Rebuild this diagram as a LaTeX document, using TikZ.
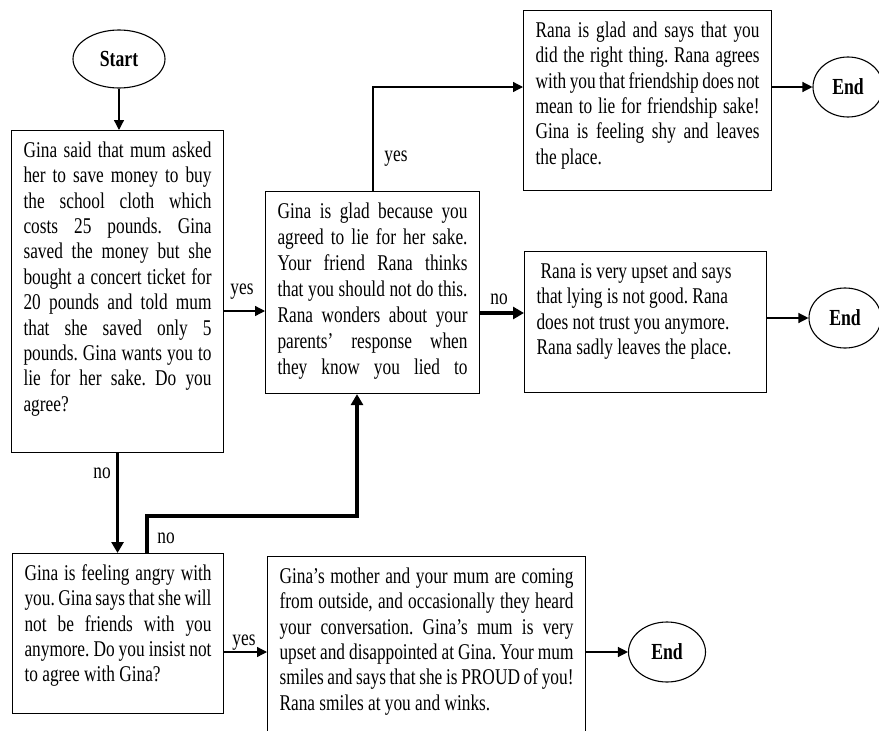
\documentclass[tikz,border=0pt]{standalone}
\usepackage{fontspec}
\setmainfont{Liberation Serif}[FakeStretch=0.77]
\usetikzlibrary{arrows.meta,shapes.geometric}
\hbadness=10000
\hfuzz=40pt
\frenchspacing

% justified block of text, top aligned, fixed width and height
\newcommand\flowtext[3]{\parbox[t][#2][t]{#1}{\strut #3}}

\begin{document}
\begin{tikzpicture}[x=1pt,y=-1pt,
  every node/.style={font=\fontsize{22.5}{25.4}\selectfont},
  box/.style={draw=black, line width=1.1pt, anchor=north west,
    inner xsep=12pt, inner ysep=9pt},
  term/.style={ellipse, draw=black, line width=1.1pt, inner sep=0pt,
    minimum height=60pt, font=\fontsize{23}{26}\selectfont\bfseries},
  lbl/.style={anchor=base, inner sep=0pt},
  arr/.style={draw=black, line width=1.3pt,
    -{Triangle[length=10pt,width=10pt]}},
  thickarr/.style={draw=black, line width=3.6pt, line join=miter,
    -{Triangle[length=11pt,width=12pt]}}
]
\clip (0,0) rectangle (879,731);

% terminals
\node[term, minimum width=92pt, minimum height=58pt] (start) at (119,59) {Start};
\node[term, minimum width=70pt] (end1) at (848,87) {End};
\node[term, minimum width=72pt] (end2) at (845,318) {End};
\node[term, minimum width=77pt] (end3) at (667,652) {End};

% story boxes
\node[box] (b1) at (11,130) {\flowtext{188pt}{304pt}{%
Gina said that mum asked\linebreak
her to save money to buy\linebreak
the school cloth which\linebreak
costs 25 pounds. Gina\linebreak
saved the money but she\linebreak
bought a concert ticket for\linebreak
20 pounds and told mum\linebreak
that she saved only 5\linebreak
pounds. Gina wants you to\linebreak
lie for her sake. Do you\linebreak
agree?}};

\node[box] (b2) at (265,191) {\flowtext{190pt}{184pt}{\parfillskip=0pt
\baselineskip=26pt
Gina is glad because you\linebreak
agreed to lie for her sake.\linebreak
Your friend Rana thinks\linebreak
that you should not do this.\linebreak
Rana wonders about your\linebreak
parents’ response when\linebreak
they know you lied to}};

\node[box] (b3) at (523,10) {\flowtext{224pt}{162pt}{%
Rana is glad and says that you\linebreak
did the right thing. Rana agrees\linebreak
with you that friendship does not\linebreak
mean to lie for friendship sake!\linebreak
Gina is feeling shy and leaves\linebreak
the place.}};

\node[box] (b4) at (524,251) {\flowtext{218pt}{123pt}{\raggedright
\hspace*{4pt}Rana is very upset and says\\
that lying is not good. Rana\\
does not trust you anymore.\\
Rana sadly leaves the place.}};

\node[box] (b5) at (12,553) {\flowtext{187pt}{142pt}{%
Gina is feeling angry with\linebreak
you. Gina says that she will\linebreak
not be friends with you\linebreak
anymore. Do you insist not\linebreak
to agree with Gina?}};

\node[box] (b6) at (267,556) {\flowtext{294pt}{166pt}{%
Gina’s mother and your mum are coming\linebreak
from outside, and occasionally they heard\linebreak
your conversation. Gina’s mum is very\linebreak
upset and disappointed at Gina. Your mum\linebreak
smiles and says that she is PROUD of you!\linebreak
Rana smiles at you and winks.}};

% routing points
\coordinate (ryes) at (0,311);
\coordinate (ttop) at (373,87);
\coordinate (rno) at (0,313);
\coordinate (na) at (147,516);
\coordinate (nb) at (357,516);
\coordinate (rbot) at (0,652);

% connectors
\draw[arr] (start.south) -- (start.south |- b1.north);
\draw[arr] (b1.east |- ryes) -- (b2.west |- ryes);
\draw[arr] (b2.north -| ttop) -- (ttop) -- (b3.west |- ttop);
\draw[arr] (b3.east |- end1.west) -- (end1.west);
\draw[thickarr] (b2.east |- rno) -- (b4.west |- rno);
\draw[arr] (b4.east |- end2.west) -- (end2.west);
\draw[thickarr] (b1.south) -- (b1.south |- b5.north);
\draw[thickarr] (b5.north -| na) -- (na) -- (nb) -- (b2.south -| nb);
\draw[arr] (b5.east |- rbot) -- (b6.west |- rbot);
\draw[arr] (b6.east |- end3.west) -- (end3.west);

% branch labels
\node[lbl] (l1) at (242,294) {yes};
\node[lbl] (l2) at (396,161) {yes};
\node[lbl] (l3) at (499,304) {no};
\node[lbl] (l4) at (102,478) {no};
\node[lbl] (l5) at (166,543) {no};
\node[lbl] (l6) at (244,645) {yes};
\end{tikzpicture}
\end{document}
